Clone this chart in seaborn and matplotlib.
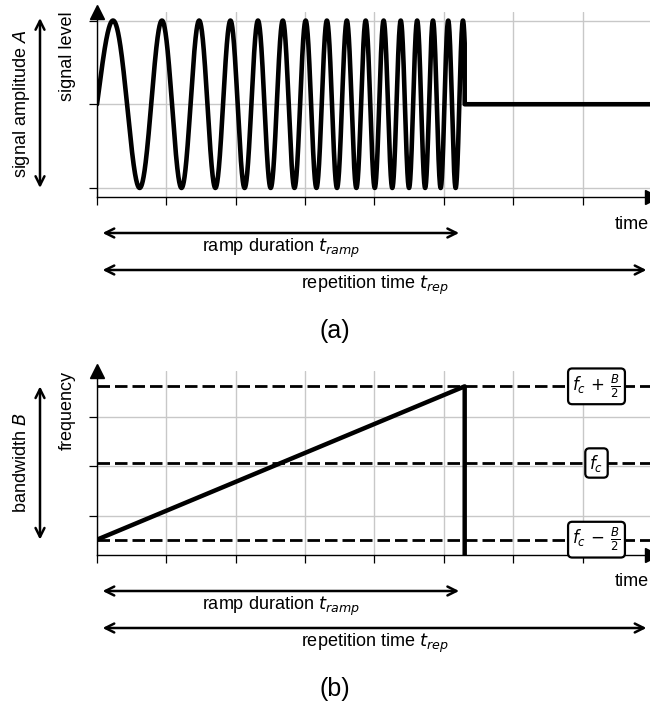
import numpy as np
import pandas as pd
import seaborn as sns
import matplotlib.pyplot as plt

# ---------------- data ----------------
ramp_duration = 5.3          # t_ramp (time units)
repetition_time = 8.0        # t_rep
chirp_f_start = 1.0          # cycles per time unit at t=0
chirp_f_stop = 4.8           # cycles per time unit at t=t_ramp
signal_ticks = [-1, 0, 1]
time_ticks = [0, 1, 2, 3, 4, 5, 6, 7]
ramp_freq = [1.52, 4.62]     # f_c - B/2 , f_c + B/2
freq_ticks = [2, 3, 4]
freq_labels = [r'$f_c\,-\,\frac{B}{2}$', r'$f_c$', r'$f_c\,+\,\frac{B}{2}$']
freq_label_x = 7.2

# ---------------- style ----------------
sns.set_theme(style='whitegrid')
plt.rcParams['font.family'] = ['Liberation Sans', 'DejaVu Sans']
plt.rcParams['mathtext.fontset'] = 'dejavusans'
plt.rcParams['text.color'] = 'black'

W, H = 650, 709
fig = plt.figure(figsize=(W / 100, H / 100), dpi=100)
ax1 = fig.add_axes([97 / W, 1 - 197 / H, 555 / W, 185.5 / H])
ax2 = fig.add_axes([97 / W, 1 - 555 / H, 555 / W, 184 / H])

FS = 13
GRID = '#c8c8c8'


def style_axes(ax):
    ax.set_facecolor('white')
    ax.grid(True, color=GRID, lw=1.0)
    ax.set_axisbelow(True)
    for s in ['top', 'right']:
        ax.spines[s].set_visible(False)
    for s in ['left', 'bottom']:
        ax.spines[s].set_color('black')
        ax.spines[s].set_linewidth(1.0)
    ax.tick_params(axis='both', direction='out', length=6, width=0.9,
                   color='black', labelleft=False, labelbottom=False,
                   left=True, bottom=True)
    ax.set_xlabel('')
    ax.set_ylabel('')
    ax.plot(0, 1, '^', transform=ax.transAxes, clip_on=False, color='black', ms=10)
    ax.plot(1, 0, '>', transform=ax.transAxes, clip_on=False, color='black', ms=10)


def px_to_axfrac(ax, px):
    h = ax.get_position().height * H
    return px / h


def time_arrows(ax, panel_label):
    tr = ax.get_xaxis_transform()
    y_ramp = -px_to_axfrac(ax, 36)
    y_rep = -px_to_axfrac(ax, 73)
    ap = dict(arrowstyle='<->', lw=1.8, color='black', shrinkA=4, shrinkB=4,
              mutation_scale=16)
    ax.annotate('', xy=(ramp_duration, y_ramp), xytext=(0, y_ramp),
                xycoords=tr, textcoords=tr, arrowprops=ap, annotation_clip=False)
    ax.annotate('', xy=(repetition_time, y_rep), xytext=(0, y_rep),
                xycoords=tr, textcoords=tr, arrowprops=ap, annotation_clip=False)
    ax.text(ramp_duration / 2, -px_to_axfrac(ax, 51), r'ramp duration $t_{ramp}$',
            transform=tr, ha='center', va='center', fontsize=FS, clip_on=False)
    ax.text(repetition_time / 2, -px_to_axfrac(ax, 88), r'repetition time $t_{rep}$',
            transform=tr, ha='center', va='center', fontsize=FS, clip_on=False)
    ax.text(3.43, -px_to_axfrac(ax, 134), panel_label, transform=tr,
            ha='center', va='center', fontsize=18, clip_on=False)
    ax.text(649 / W, ax.get_position().y0 - 27 / H, 'time', transform=fig.transFigure,
            ha='right', va='center', fontsize=FS)


# ---------------- top panel: chirp signal ----------------
t = np.linspace(0, ramp_duration, 3000)
k = (chirp_f_stop - chirp_f_start) / ramp_duration
sig = np.sin(2 * np.pi * (chirp_f_start * t + 0.5 * k * t ** 2))
df1 = pd.DataFrame({
    'time': np.concatenate([t, [ramp_duration, repetition_time]]),
    'level': np.concatenate([sig, [0.0, 0.0]]),
})
sns.lineplot(data=df1, x='time', y='level', ax=ax1, sort=False, estimator=None,
             color='black', lw=3.3)
style_axes(ax1)
ax1.set_xlim(0, repetition_time)
ax1.set_ylim(-1.108, 1.108)
ax1.set_xticks(time_ticks)
ax1.set_yticks(signal_ticks)

x_lab1 = -(97 - 67.5) / 555
x_amp = -(97 - 21.5) / 555
x_arr = -(97 - 40) / 555
ax1.text(x_lab1, 1.0, 'signal level', transform=ax1.transAxes, rotation=90,
         ha='center', va='top', fontsize=FS)
ax1.text(x_amp, 0.5, r'signal amplitude $A$', transform=ax1.transAxes, rotation=90,
         ha='center', va='center', fontsize=FS)
ytr1 = ax1.get_yaxis_transform()
ax1.annotate('', xy=(x_arr, signal_ticks[-1] + 0.03), xytext=(x_arr, signal_ticks[0]),
             xycoords=ytr1, textcoords=ytr1, annotation_clip=False,
             arrowprops=dict(arrowstyle='<->', lw=1.8, color='black',
                             shrinkA=0, shrinkB=0, mutation_scale=16))
time_arrows(ax1, '(a)')

# ---------------- bottom panel: frequency ramp ----------------
f_min, f_max = ramp_freq
B = f_max - f_min
f_c = (f_min + f_max) / 2
y_lo = f_min - 0.1 * B
y_hi = f_max + 0.1 * B
df2 = pd.DataFrame({
    'time': [0.0, ramp_duration, ramp_duration],
    'frequency': [f_min, f_max, y_lo],
})
sns.lineplot(data=df2, x='time', y='frequency', ax=ax2, sort=False, estimator=None,
             color='black', lw=3.2)
style_axes(ax2)
ax2.set_xlim(0, repetition_time)
ax2.set_ylim(y_lo, y_hi)
ax2.set_xticks(time_ticks)
ax2.set_yticks(freq_ticks)

for lvl, lab in zip([f_min, f_c, f_max], freq_labels):
    ax2.axhline(lvl, color='black', lw=2, linestyle=(0, (4.5, 1.8)), zorder=3)
    ax2.text(freq_label_x, lvl, lab, ha='center', va='center', fontsize=12, zorder=5,
             bbox=dict(boxstyle='round,pad=0.25', fc='white', ec='black', lw=1.6))

ax2.text(x_lab1, 1.0, 'frequency', transform=ax2.transAxes, rotation=90,
         ha='center', va='top', fontsize=FS)
ax2.text(x_amp, 0.5, r'bandwidth $B$', transform=ax2.transAxes, rotation=90,
         ha='center', va='center', fontsize=FS)
ytr2 = ax2.get_yaxis_transform()
ax2.annotate('', xy=(x_arr, f_max), xytext=(x_arr, f_min),
             xycoords=ytr2, textcoords=ytr2, annotation_clip=False,
             arrowprops=dict(arrowstyle='<->', lw=1.8, color='black',
                             shrinkA=0, shrinkB=0, mutation_scale=16))
time_arrows(ax2, '(b)')

fig.savefig('out.png', dpi=100, facecolor='white')
